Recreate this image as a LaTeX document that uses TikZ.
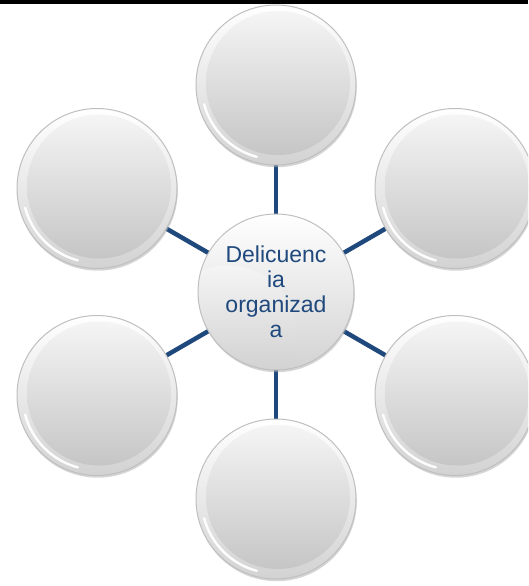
\documentclass[tikz,border=0pt]{standalone}
\usepackage{fontspec}
\setmainfont{Liberation Sans}
\usetikzlibrary{shadows}
\definecolor{navy}{HTML}{1F497D}
\pgfdeclarelayer{background}
\pgfsetlayers{background,main}
\begin{document}
\begin{tikzpicture}[x=1pt,y=-1pt,
  bubble/.style={circle, minimum size=160pt, inner sep=0pt, outer sep=0pt,
    draw=gray!50, line width=1pt,
    top color=white, bottom color=gray!35,
    drop shadow={shadow xshift=0.8pt, shadow yshift=-2.2pt, fill=gray!65, opacity=0.5},
    path picture={
      \begin{scope}[x=1pt,y=1pt, shift={(path picture bounding box.center)}]
        \pgfmathsetmacro{\rr}{\pgfkeysvalueof{/pgf/minimum width}/2}
        \shade[top color=gray!8, bottom color=gray!45]
          (2,2) circle ({0.9*\rr});
        \draw[white, line width=2.4pt, line cap=round, opacity=0.95]
          (195:{0.93*\rr}) arc[start angle=195, end angle=255, radius={0.93*\rr}];
      \end{scope}
    }},
  conn/.style={draw=navy, line width=4.5pt}]
\useasboundingbox (0,0) rectangle (528,586);
\clip (0,0) rectangle (528,586);
\fill[black] (0,0) rectangle (528,4);
\node[bubble, minimum size=156pt, text=navy, font=\fontsize{23}{25}\selectfont, align=center] (c) at (276,292) {Delicuenc\\ia\\organizad\\a};
\node[bubble] (n1) at (276,85) {};
\node[bubble] (n2) at (455,188.5) {};
\node[bubble] (n3) at (455,395.5) {};
\node[bubble] (n4) at (276,499) {};
\node[bubble] (n5) at (97,395.5) {};
\node[bubble] (n6) at (97,188.5) {};
\begin{pgfonlayer}{background}
\foreach \n in {n1,n2,n3,n4,n5,n6} \draw[conn] (c) -- (\n);
\end{pgfonlayer}
\end{tikzpicture}
\end{document}
